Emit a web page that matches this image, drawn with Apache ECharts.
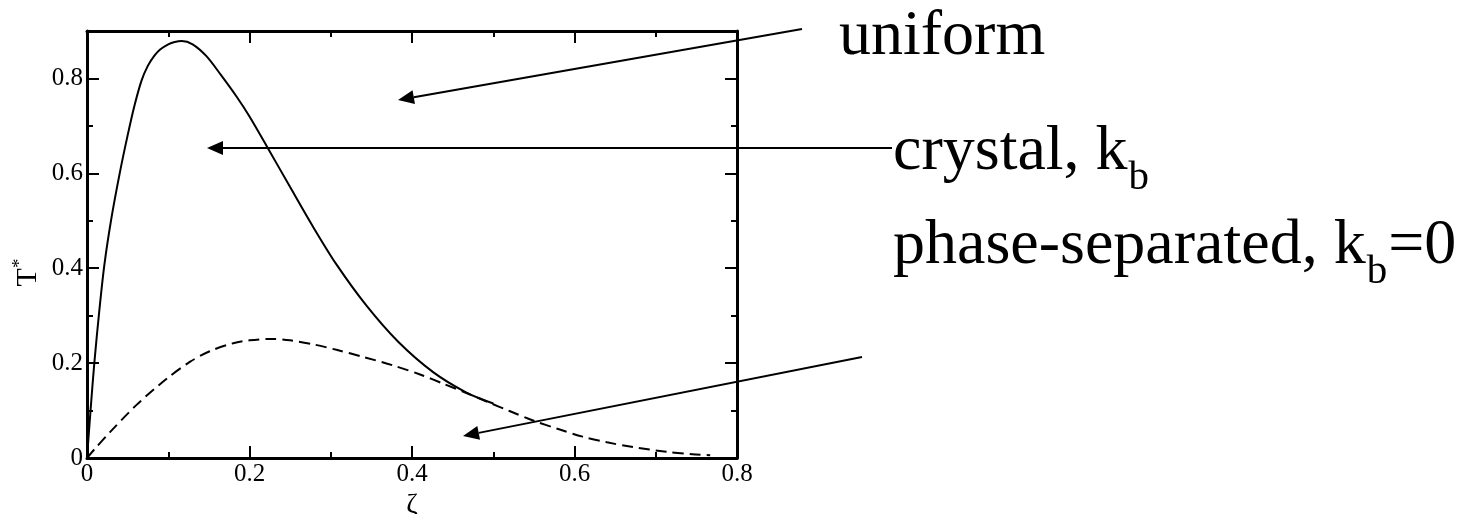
<!DOCTYPE html>
<html>
<head>
<meta charset="utf-8">
<script src="https://cdn.jsdelivr.net/npm/echarts@6/dist/echarts.min.js"></script>
<style>
  html, body { margin: 0; padding: 0; background: #fff; }
  #chart { width: 1461px; height: 514px; }
</style>
</head>
<body>
<div id="chart"></div>
<script>
// Crystal (k_b) transition curve: T* versus zeta
const crystalZeta = [0, 0.0045, 0.009, 0.015, 0.0213, 0.03, 0.0406, 0.05, 0.058, 0.067, 0.075, 0.083, 0.09, 0.1, 0.108, 0.1165, 0.13, 0.147, 0.165, 0.184, 0.2, 0.223, 0.25, 0.278, 0.307, 0.344, 0.383, 0.426, 0.467, 0.5];
const crystalT    = [0, 0.1035, 0.2, 0.308, 0.406, 0.505, 0.603, 0.68, 0.74, 0.795, 0.827, 0.848, 0.861, 0.872, 0.877, 0.879, 0.872, 0.847, 0.807, 0.762, 0.72, 0.652, 0.571, 0.488, 0.408, 0.321, 0.245, 0.181, 0.138, 0.115];

// Phase-separated (k_b = 0) curve
const phaseZeta = [0, 0.01, 0.028, 0.061, 0.098, 0.127, 0.151, 0.18, 0.2, 0.225, 0.25, 0.28, 0.307, 0.34, 0.377, 0.41, 0.438, 0.467, 0.492, 0.52, 0.549, 0.58, 0.61, 0.64, 0.672, 0.713, 0.745, 0.767];
const phaseT    = [0, 0.02, 0.054, 0.112, 0.167, 0.203, 0.225, 0.242, 0.248, 0.251, 0.248, 0.239, 0.228, 0.213, 0.195, 0.176, 0.157, 0.137, 0.119, 0.099, 0.079, 0.061, 0.045, 0.033, 0.023, 0.013, 0.008, 0.006];

// Axis ticks
const yMajorTicks = [0, 0.2, 0.4, 0.6, 0.8];
const yMinorTicks = [0.1, 0.3, 0.5, 0.7];

const SERIF = '"Liberation Serif", "Times New Roman", Times, serif';
const INK = '#000';

const chart = echarts.init(document.getElementById('chart'), null, { renderer: 'canvas' });

function pairs(xs, ys) { return xs.map((x, i) => [x, ys[i]]); }

// measure text to place subscripts after the main run
const measureCtx = document.createElement('canvas').getContext('2d');
function textWidth(str, size) {
  measureCtx.font = size + 'px ' + SERIF;
  return measureCtx.measureText(str).width;
}

// straight annotation arrow ending in a filled triangular head
function arrow(x1, y1, x2, y2) {
  const dx = x2 - x1, dy = y2 - y1;
  const len = Math.sqrt(dx * dx + dy * dy);
  const ux = dx / len, uy = dy / len;
  const headLen = 16, headHalf = 7;
  const bx = x2 - ux * headLen, by = y2 - uy * headLen;
  return [
    { type: 'line', silent: true,
      shape: { x1: x1, y1: y1, x2: bx, y2: by },
      style: { stroke: INK, lineWidth: 2 } },
    { type: 'polygon', silent: true,
      shape: { points: [[x2, y2], [bx - uy * headHalf, by + ux * headHalf], [bx + uy * headHalf, by - ux * headHalf]] },
      style: { fill: INK } }
  ];
}

function label(str, x, yMid, size) {
  return { type: 'text', silent: true, x: x, y: yMid,
    style: { text: str, fontFamily: SERIF, fontSize: size, fill: INK, align: 'left', verticalAlign: 'middle' } };
}

const MAIN = 64, SUB = 41;
const textX = 893;
const crystalMain = 'crystal, k';
const phaseMain = 'phase-separated, k';
const phaseSubW = textWidth('b', SUB);

const annotations = [
  label('uniform', 839, 37, MAIN),
  label(crystalMain, textX, 152, MAIN),
  label('b', textX + textWidth(crystalMain, MAIN) + 1, 178, SUB),
  label(phaseMain, textX, 246, MAIN),
  label('b', textX + textWidth(phaseMain, MAIN) + 1, 272, SUB),
  label('=0', textX + textWidth(phaseMain, MAIN) + phaseSubW + 2, 246, MAIN)
].concat(
  arrow(802, 29, 398, 100),
  arrow(892, 148, 207, 148),
  arrow(862, 357, 463, 436)
);

const frameLine = { show: true, onZero: false, lineStyle: { color: INK, width: 3 } };
const majorTick = { show: true, inside: true, length: 12, lineStyle: { color: INK, width: 2 } };
const minorTick = { show: true, splitNumber: 2, length: 6, lineStyle: { color: INK, width: 2 } };
const tickLabel = { color: INK, fontFamily: SERIF, fontSize: 25, margin: 4 };

const option = {
  backgroundColor: '#fff',
  animation: false,
  grid: { left: 87, right: 724, top: 31, bottom: 56, outerBoundsMode: 'none', containLabel: false },
  xAxis: [
    { type: 'value', position: 'bottom', min: 0, max: 0.8, interval: 0.2,
      axisLine: frameLine, axisTick: majorTick, minorTick: minorTick,
      axisLabel: tickLabel, splitLine: { show: false },
      name: 'ζ', nameLocation: 'middle', nameGap: 25,
      nameTextStyle: { color: INK, fontFamily: SERIF, fontSize: 28 } },
    { type: 'value', position: 'top', min: 0, max: 0.8, interval: 0.2,
      axisLine: frameLine, axisTick: majorTick, minorTick: minorTick,
      axisLabel: { show: false }, splitLine: { show: false } }
  ],
  yAxis: [
    { type: 'value', position: 'left', min: 0, max: 0.9,
      axisLine: frameLine,
      axisTick: Object.assign({ customValues: yMajorTicks }, majorTick),
      axisLabel: Object.assign({ customValues: yMajorTicks }, tickLabel),
      splitLine: { show: false },
      name: '{t|T}{s|*}', nameLocation: 'middle', nameGap: 44, nameRotate: 90,
      nameTextStyle: { color: INK, fontFamily: SERIF, fontSize: 30, padding: [0, 56, 0, 0],
        rich: { t: { color: INK, fontFamily: SERIF, fontSize: 30, lineHeight: 32, verticalAlign: 'bottom' },
                s: { color: INK, fontFamily: SERIF, fontSize: 19, lineHeight: 19, verticalAlign: 'top' } } } },
    { type: 'value', position: 'right', min: 0, max: 0.9,
      axisLine: frameLine,
      axisTick: Object.assign({ customValues: yMajorTicks }, majorTick),
      axisLabel: { show: false }, splitLine: { show: false } },
    { type: 'value', position: 'left', min: 0, max: 0.9,
      axisLine: { show: false, onZero: false },
      axisTick: { show: true, inside: true, length: 6, customValues: yMinorTicks, lineStyle: { color: INK, width: 2 } },
      axisLabel: { show: false }, splitLine: { show: false } },
    { type: 'value', position: 'right', min: 0, max: 0.9,
      axisLine: { show: false, onZero: false },
      axisTick: { show: true, inside: true, length: 6, customValues: yMinorTicks, lineStyle: { color: INK, width: 2 } },
      axisLabel: { show: false }, splitLine: { show: false } }
  ],
  series: [
    { name: 'crystal', type: 'line', xAxisIndex: 0, yAxisIndex: 0,
      data: pairs(crystalZeta, crystalT), smooth: 0.3, showSymbol: false, symbol: 'none',
      lineStyle: { color: INK, width: 2 } },
    { name: 'phase-separated', type: 'line', xAxisIndex: 0, yAxisIndex: 0,
      data: pairs(phaseZeta, phaseT), smooth: 0.3, showSymbol: false, symbol: 'none',
      lineStyle: { color: INK, width: 2, type: [11, 6] } }
  ],
  graphic: { elements: annotations }
};

chart.setOption(option);
</script>
</body>
</html>
